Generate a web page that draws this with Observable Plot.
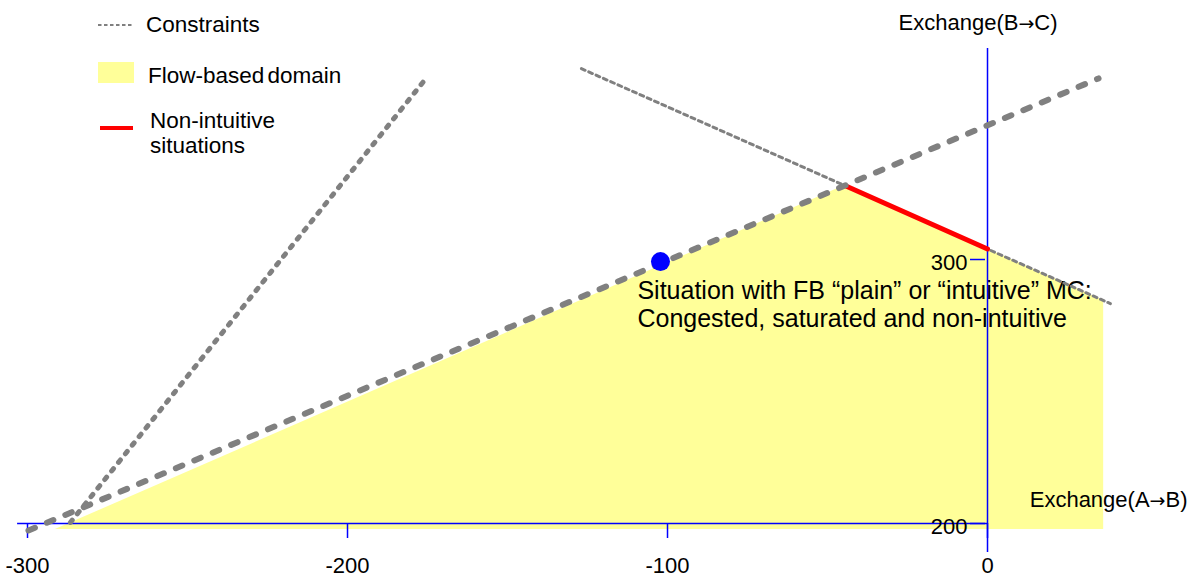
<!DOCTYPE html>
<html><head><meta charset="utf-8">
<script src="https://cdn.jsdelivr.net/npm/d3@7"></script>
<script src="https://cdn.jsdelivr.net/npm/@observablehq/plot@0.6"></script>
<style>
html,body{margin:0;padding:0;background:#fff;}
#wrap{position:relative;width:1196px;height:578px;overflow:hidden;}
#legend{position:absolute;left:0;top:0;font-family:'Liberation Sans',Arial,sans-serif;}
#wrap svg g[aria-label="rule"], #wrap svg g[aria-label="rule"] line{stroke:#0000ff;}
</style></head><body>
<div id="wrap"></div>
<script>
// ---- data ----
const xTicks = [-300, -200, -100, 0];
const yTicks = [200, 300];
const thickConstraintX = [-299.7, 34.7];
const thickConstraintY = [197.35, 368.6];
const steepConstraintX = [-286.6, -175.0];
const steepConstraintY = [200.4, 369.3];
const thinConstraintX = [-126.9, 38.4];
const thinConstraintY = [372.3, 283.3];
const nonIntuitiveX = [-44.6, 0];
const nonIntuitiveY = [328.0, 304.0];
const domainX = [-291.3, -44.6, 0, 36.3];
const domainTop = [197.7, 328.0, 304.0, 284.5];
const domainFloor = 197.7;
const situationX = [-102.2];
const situationY = [299.2];
const axisXStart = -303.1;
const axisYExtent = [189.0, 379.9];
const legendLabels = ["Constraints", "Flow-based domain", "Non-intuitive", "situations"];
const xAxisTitle = ["Exchange(A\u2192B)"];
const xAxisTitlePos = [62.5, 206.1];
const yAxisTitle = ["Exchange(B\u2192C)"];
const yAxisTitlePos = [-27.8, 387.1];
const annotationText = ["Situation with FB \u201cplain\u201d or \u201cintuitive\u201d MC:\nCongested, saturated and non-intuitive"];
const annotationX = [-109.4];
const annotationY = [292.6];

// ---- helpers ----
const pts = (xs, ys) => xs.map((x, i) => ({x, y: ys[i]}));
const W = 1196, H = 578;
const GRAY = "#808080", BLUE = "#0000ff";
const FONT = "'Liberation Sans', Arial, sans-serif";

const chart = Plot.plot({
  width: W, height: H, margin: 0,
  x: {domain: [-308.44, 65.31], axis: null},
  y: {domain: [179.17, 398.11], axis: null},
  style: {fontFamily: FONT, background: "#fff", color: "#000"},
  marks: [
    Plot.areaY(pts(domainX, domainTop), {x: "x", y1: domainFloor, y2: "y", fill: "#ffff99"}),
    Plot.text(annotationText, {x: annotationX, y: annotationY, text: d => d, textAnchor: "start", lineAnchor: "top", lineHeight: 1.12, fontSize: 25, fill: "#000"}),
    Plot.ruleY([200], {y: d => d, x1: axisXStart, stroke: BLUE, strokeWidth: 1.7}),
    Plot.ruleX([0], {x: d => d, y1: axisYExtent[0], y2: axisYExtent[1], stroke: BLUE, strokeWidth: 1.5}),
    Plot.ruleX(xTicks, {x: d => d, y1: 200, y2: 200, insetBottom: -15, stroke: BLUE, strokeWidth: 1.5}),
    Plot.ruleY(yTicks, {y: d => d, x1: 0, x2: 0, insetLeft: -17, insetRight: 2, stroke: BLUE, strokeWidth: 1.5}),
    Plot.line(pts(thinConstraintX, thinConstraintY), {x: "x", y: "y", stroke: GRAY, strokeWidth: 3, strokeDasharray: "4,4"}),
    Plot.line(pts(nonIntuitiveX, nonIntuitiveY), {x: "x", y: "y", stroke: "#ff0000", strokeWidth: 5}),
    Plot.line(pts(steepConstraintX, steepConstraintY), {x: "x", y: "y", stroke: GRAY, strokeWidth: 5, strokeDasharray: "3,8", strokeLinecap: "round"}),
    Plot.line(pts(thickConstraintX, thickConstraintY), {x: "x", y: "y", stroke: GRAY, strokeWidth: 6, strokeDasharray: "7,13", strokeLinecap: "round"}),
    Plot.dot(pts(situationX, situationY), {x: "x", y: "y", r: 9.5, fill: BLUE, stroke: "none"}),
    Plot.text(xTicks, {x: d => d, y: 200, text: d => String(d), textAnchor: "middle", lineAnchor: "bottom", dy: 49, fontSize: 22, fill: "#000"}),
    Plot.text(yTicks, {x: 0, y: d => d, text: d => String(d), textAnchor: "end", lineAnchor: "bottom", dx: -20, dy: 10, fontSize: 22, fill: "#000"}),
    Plot.text(xAxisTitle, {x: xAxisTitlePos[0], y: xAxisTitlePos[1], text: d => d, textAnchor: "end", lineAnchor: "bottom", fontSize: 22, fill: "#000"}),
    Plot.text(yAxisTitle, {x: yAxisTitlePos[0], y: yAxisTitlePos[1], text: d => d, textAnchor: "start", lineAnchor: "bottom", fontSize: 22, fill: "#000"})
  ]
});

document.getElementById("wrap").appendChild(chart);

// widen the arrow glyph in axis titles
chart.querySelectorAll("text").forEach(t => {
  if (t.children.length === 0 && t.textContent.includes("\u2192")) {
    const parts = t.textContent.split("\u2192");
    t.textContent = "";
    const ns = "http://www.w3.org/2000/svg";
    const a = document.createElementNS(ns, "tspan"); a.textContent = parts[0];
    const b = document.createElementNS(ns, "tspan"); b.textContent = "\u2192";
    b.setAttribute("font-family", "'DejaVu Sans'"); b.setAttribute("font-size", "19");
    const c = document.createElementNS(ns, "tspan"); c.textContent = parts[1];
    t.append(a, b, c);
  }
});

// ---- legend overlay ----
const ns = "http://www.w3.org/2000/svg";
const leg = document.createElementNS(ns, "svg");
leg.setAttribute("id", "legend");
leg.setAttribute("width", 400);
leg.setAttribute("height", 170);
const add = (tag, attrs, txt) => {
  const e = document.createElementNS(ns, tag);
  for (const k in attrs) e.setAttribute(k, attrs[k]);
  if (txt != null) e.textContent = txt;
  leg.appendChild(e);
  return e;
};
add("line", {x1: 98, y1: 25, x2: 132, y2: 25, stroke: GRAY, "stroke-width": 2, "stroke-dasharray": "3.5,2.5"});
add("text", {x: 146, y: 32, "font-size": 22.5, fill: "#000"}, legendLabels[0]);
add("rect", {x: 98, y: 62, width: 36, height: 21, fill: "#ffff99"});
add("text", {x: 148, y: 83, "font-size": 22.5, fill: "#000", "word-spacing": "-3"}, legendLabels[1]);
add("line", {x1: 100, y1: 128, x2: 133, y2: 128, stroke: "#ff0000", "stroke-width": 4});
add("text", {x: 150, y: 128, "font-size": 22.5, fill: "#000"}, legendLabels[2]);
add("text", {x: 150, y: 153, "font-size": 22.5, fill: "#000"}, legendLabels[3]);
document.getElementById("wrap").appendChild(leg);
</script>
</body></html>
